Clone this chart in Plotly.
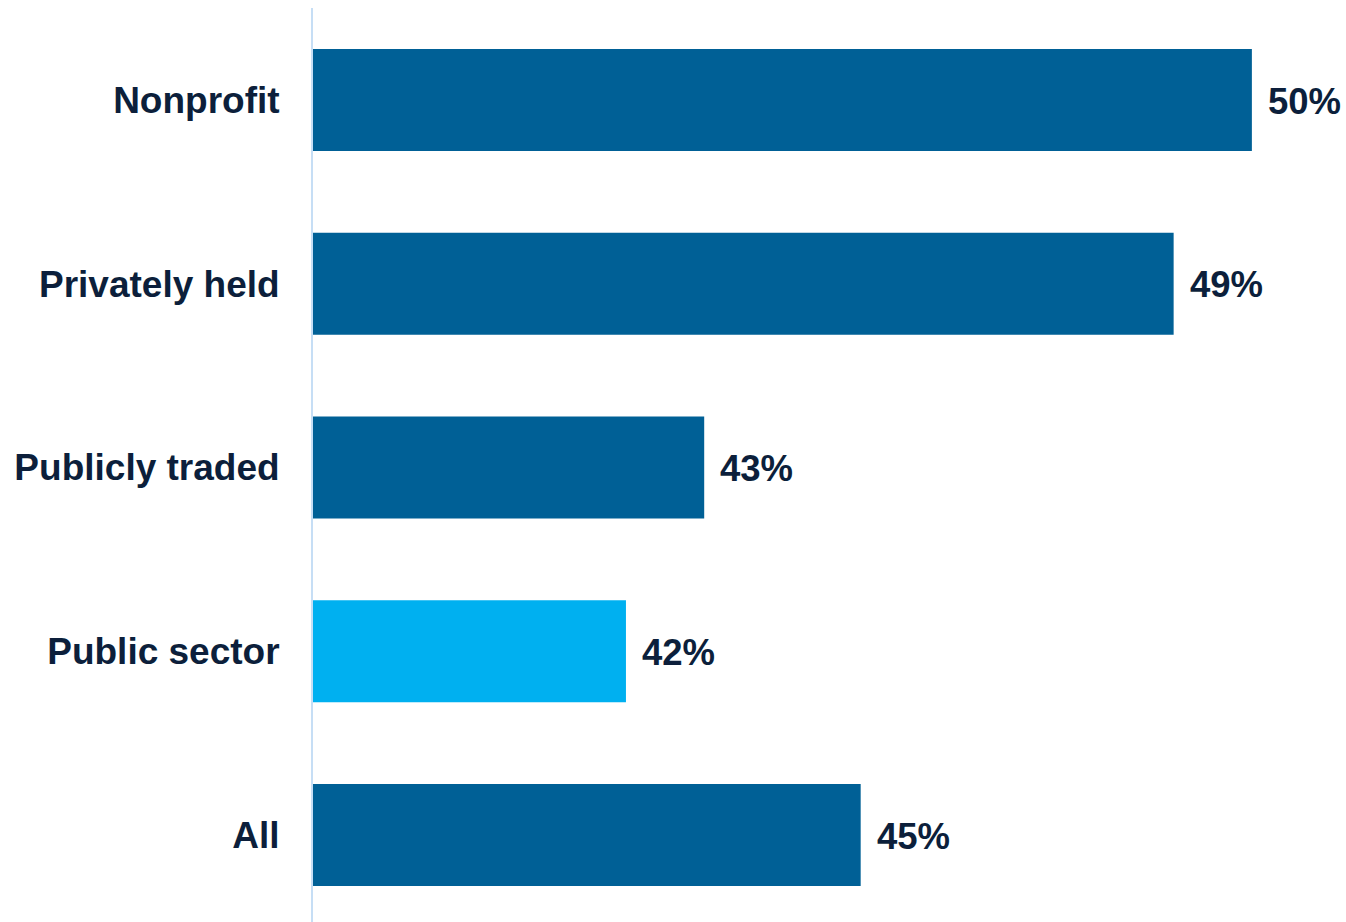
import plotly.graph_objects as go

categories = ["Nonprofit", "Privately held", "Publicly traded", "Public sector", "All"]
values = [50, 49, 43, 42, 45]
bar_colors = ["#006096", "#006096", "#006096", "#00B0F0", "#006096"]
value_labels = ["50%", "49%", "43%", "42%", "45%"]

text_color = "#0C1F3B"
font_family = "Liberation Sans, Arial, sans-serif"

fig = go.Figure()
fig.add_trace(go.Bar(
    x=values,
    y=categories,
    orientation="h",
    marker=dict(color=bar_colors, line=dict(width=0)),
    width=0.555,
    hoverinfo="skip",
))

for cat, val, lab in zip(categories, values, value_labels):
    fig.add_annotation(
        x=val, y=cat, text=f"<b>{lab}</b>", showarrow=False,
        xanchor="left", yanchor="middle", xshift=14, yshift=-1,
        font=dict(size=36.5, color=text_color, family=font_family),
    )

fig.update_layout(
    width=1346, height=922,
    margin=dict(l=313, r=55, t=8, b=0),
    paper_bgcolor="white", plot_bgcolor="white",
    showlegend=False,
    xaxis=dict(range=[38, 50.5], showgrid=False, zeroline=False,
               showticklabels=False, showline=False),
    yaxis=dict(
        categoryorder="array", categoryarray=categories,
        range=[4.4735, -0.5007],
        showgrid=False, zeroline=False,
        showline=True, linecolor="#C6DEF5", linewidth=2,
        ticks="", ticklabelstandoff=24,
        tickfont=dict(size=37, color=text_color, family=font_family),
        tickvals=categories,
        ticktext=[f"<b>{c}</b>" for c in categories],
    ),
)

fig.write_html("out.html")
